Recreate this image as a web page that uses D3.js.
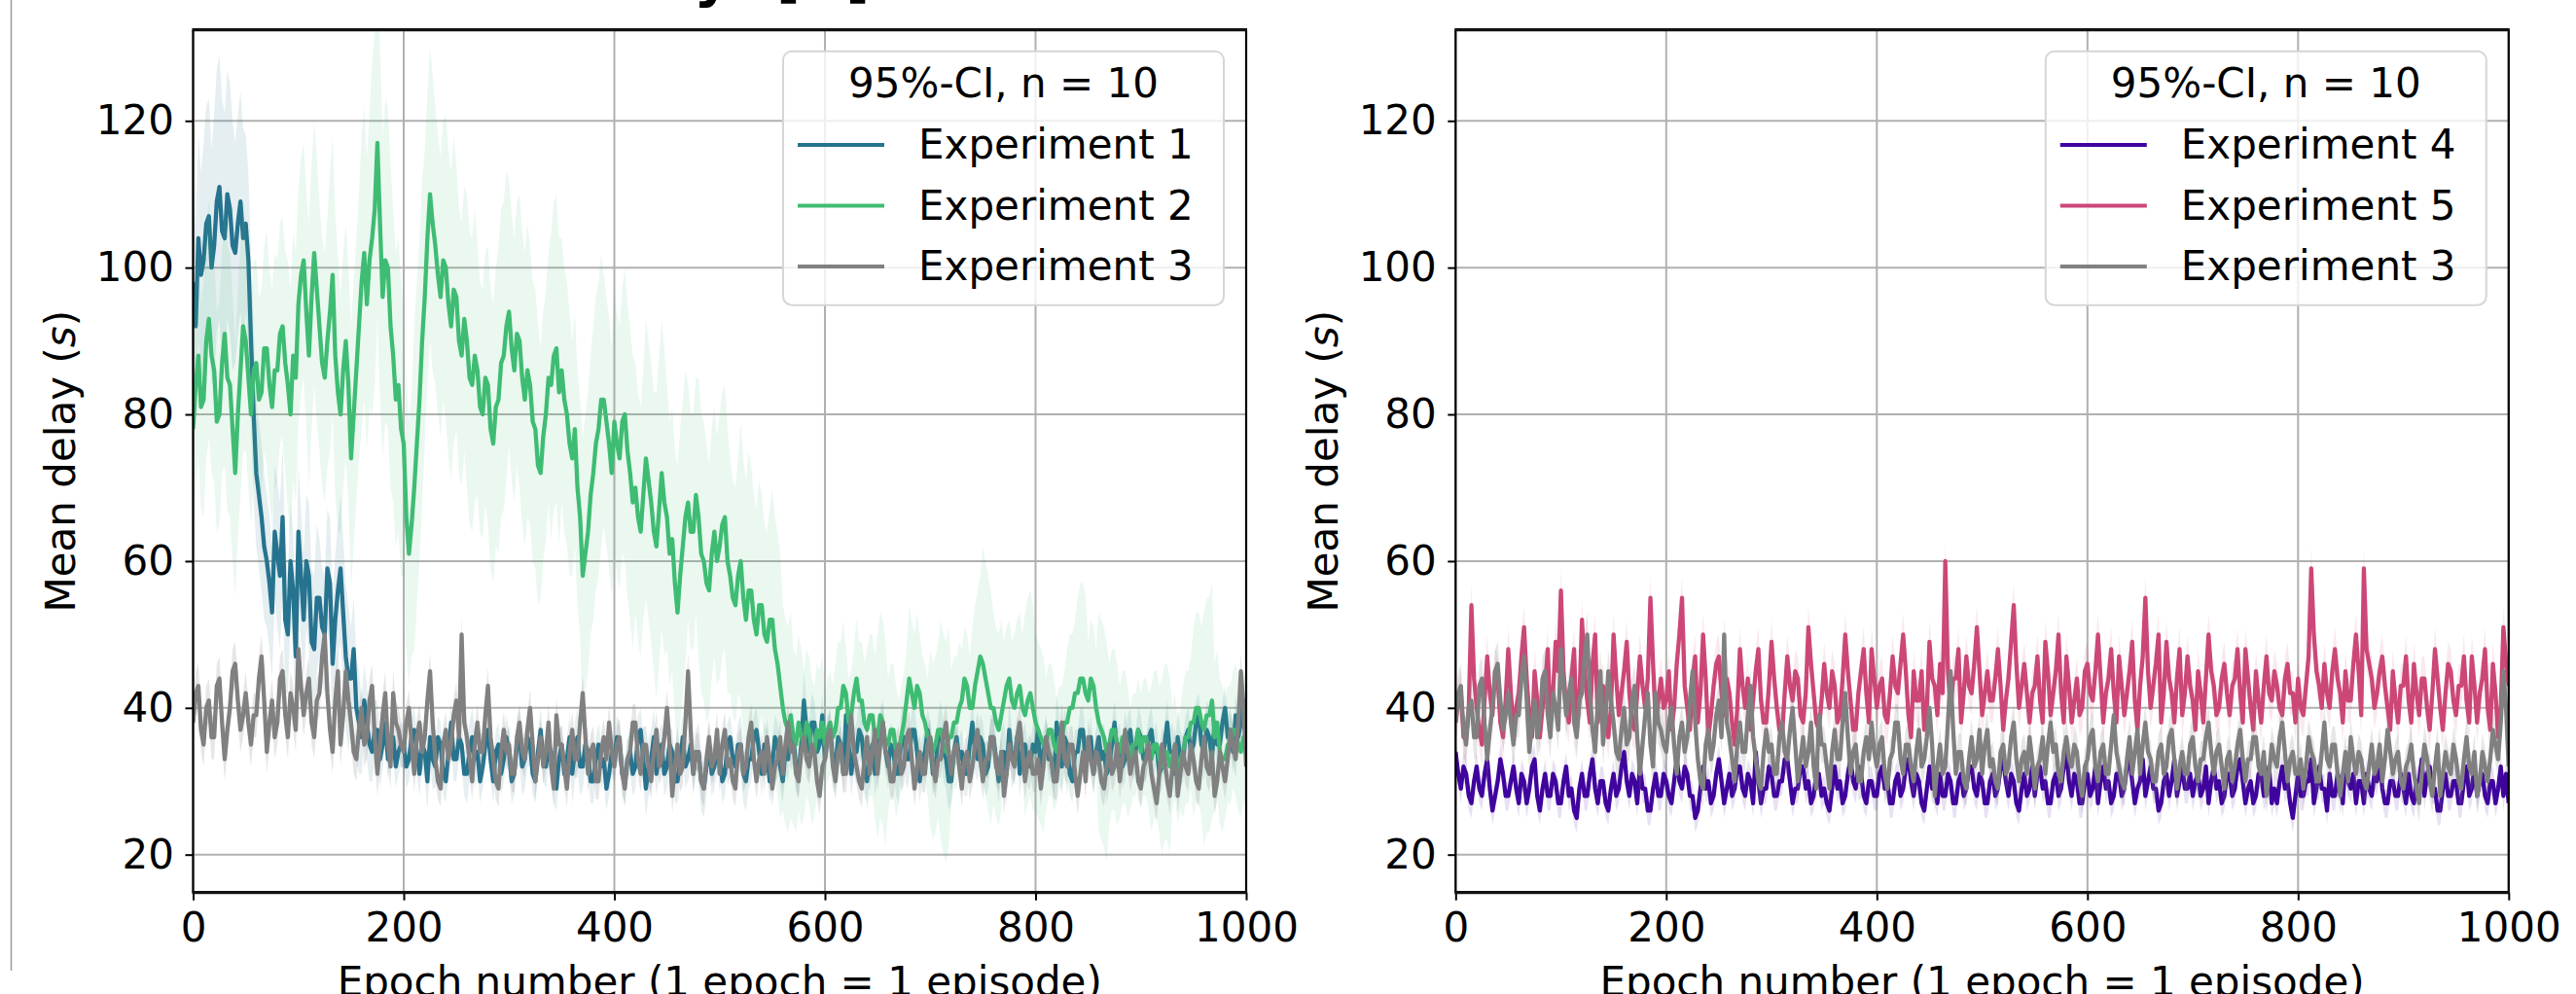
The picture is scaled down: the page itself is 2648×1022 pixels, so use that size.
<!DOCTYPE html>
<html>
<head>
<meta charset="utf-8">
<script src="https://cdn.jsdelivr.net/npm/d3@7"></script>
<style>
body { margin: 0; background: #fff; }
svg { display: block; font-family: "DejaVu Sans", sans-serif; }
</style>
</head>
<body>
<svg id="chart" width="2648" height="1022"></svg>
<script>
//
// Data (one value every 2.5 epochs, 0..1000)
//
var maxEpoch = 1000;
var xTicks = [0, 200, 400, 600, 800, 1000];
var yTicks = [20, 40, 60, 80, 100, 120];
var legendTitle = "95%-CI, n = 10";

var exp1Mean = [
    98,92,104,99,101,106,107,100,103,109,111,105,104,110,108,103,102,106,109,104,
    106,101,90,80,72,69,66,62,60,57,53,64,61,58,66,52,50,60,56,47,
    64,58,52,60,58,49,48,55,55,51,50,59,57,46,52,56,59,53,47,44,
    44,48,40,38,36,41,38,35,34,37,37,33,35,38,33,36,36,32,34,35,
    35,32,33,36,37,34,31,35,34,30,36,33,32,36,35,31,30,34,38,33,
    33,36,35,31,31,34,36,33,34,30,32,35,37,33,30,34,35,31,33,36,
    34,30,31,35,36,32,33,36,35,31,30,34,37,33,32,35,34,30,29,33,
    35,31,33,36,31,34,36,32,32,35,34,30,30,33,35,32,33,29,31,34,
    33,36,35,31,30,33,34,31,32,36,37,33,29,32,33,36,31,34,35,31,
    32,35,34,30,30,33,36,32,33,35,31,34,34,30,29,32,35,31,32,34,
    34,30,31,35,36,33,32,35,35,31,30,33,33,36,37,34,31,35,34,30,
    32,36,35,32,30,34,33,37,36,32,31,35,41,37,34,38,38,34,35,39,
    33,36,37,33,32,36,35,31,39,35,31,34,34,37,36,32,30,33,35,31,
    33,37,38,34,32,35,34,31,31,36,36,33,33,37,37,34,30,33,34,37,
    35,31,32,36,37,34,33,30,30,34,36,33,34,31,31,35,38,34,33,36,
    35,31,32,36,36,33,30,34,34,31,37,33,33,36,31,34,35,32,32,35,
    34,37,31,34,36,33,33,30,38,35,32,36,35,31,30,34,34,37,37,33,
    33,36,31,34,36,33,34,31,32,35,38,34,35,32,33,36,37,33,34,37,
    36,33,33,36,37,34,35,31,32,35,38,34,34,31,36,33,33,36,37,34,
    35,38,39,35,34,37,36,33,38,35,35,38,40,36,37,34,39,36,38,41,
    36
];
var exp2Mean = [
    78,84,88,81,82,90,93,88,86,79,80,87,91,85,84,78,72,80,86,92,
    90,85,80,86,87,82,83,89,89,84,81,86,86,91,92,87,84,80,88,85,
    95,99,101,94,88,96,102,97,92,87,85,90,94,99,88,83,80,86,90,84,
    74,80,86,92,98,102,95,101,104,108,117,106,96,101,100,92,88,82,84,78,
    76,66,61,65,70,76,82,90,96,104,110,106,103,99,96,101,100,95,92,97,
    96,90,88,93,90,85,84,88,86,81,80,85,84,78,76,81,82,87,88,92,
    94,89,86,91,90,85,82,86,84,79,78,73,72,77,80,85,84,88,89,83,
    86,82,80,76,74,78,70,66,58,61,64,69,72,76,78,82,82,79,76,72,
    79,76,74,79,80,75,72,68,70,66,64,69,74,71,68,64,62,67,72,68,
    66,61,63,57,53,58,62,66,68,64,64,69,66,61,60,57,56,61,64,60,
    62,65,66,60,58,55,54,58,60,55,52,56,56,52,50,54,54,50,49,52,
    52,48,46,43,40,38,37,39,36,35,38,36,35,38,37,34,34,37,36,38,
    35,37,38,36,37,40,40,43,42,38,39,42,44,41,41,38,37,39,39,36,
    36,39,38,35,35,37,37,34,34,36,38,41,44,42,40,43,42,39,38,36,
    36,34,35,37,37,35,34,36,36,38,38,40,41,44,43,40,40,43,45,47,
    46,44,42,40,40,38,37,39,41,43,44,41,40,42,43,40,39,41,42,40,
    38,37,36,35,35,37,37,35,34,36,36,38,38,40,40,42,42,44,44,42,
    41,44,43,40,38,37,36,34,35,37,37,35,34,36,36,34,33,35,35,37,
    34,36,36,34,33,35,35,33,32,34,34,32,33,35,31,33,34,36,36,38,
    38,40,40,38,37,39,39,41,36,38,34,33,33,35,35,37,37,35,34,36,
    36
];
var exp3Mean = [
    38,42,43,37,35,40,41,36,36,43,44,38,33,37,40,45,46,41,37,39,
    42,38,35,39,39,44,47,41,34,38,41,36,38,44,45,39,36,42,40,37,
    48,43,39,42,44,38,36,41,42,47,50,42,37,34,41,45,35,39,45,41,
    38,34,33,37,40,35,36,41,43,36,31,35,39,42,35,32,42,38,37,35,
    34,38,40,35,31,36,38,34,36,41,45,38,33,30,29,35,37,33,35,39,
    41,36,50,38,36,33,30,35,38,34,34,39,43,36,33,30,29,34,37,34,
    35,31,31,36,38,34,33,37,40,35,30,33,36,32,34,38,32,29,39,35,
    35,32,29,34,37,33,33,38,42,36,31,34,35,30,30,34,36,33,38,34,
    32,35,36,31,29,33,34,38,38,33,31,35,35,32,30,34,37,32,33,36,
    40,35,28,32,35,31,32,38,45,37,31,34,34,30,29,33,36,32,33,37,
    31,35,37,32,33,30,29,34,35,31,32,36,38,33,30,33,34,31,36,33,
    29,32,33,36,31,35,38,34,35,31,30,34,36,33,32,35,34,30,28,32,
    33,36,37,32,30,34,35,31,31,35,39,34,32,30,29,33,36,31,34,37,
    31,35,38,34,33,30,30,34,35,31,32,36,37,33,29,32,34,31,31,35,
    36,32,30,33,33,36,38,34,31,34,35,32,29,33,34,30,32,35,37,33,
    30,33,33,36,36,32,31,34,28,31,35,33,32,36,38,34,30,33,34,31,
    31,33,29,32,36,34,33,30,30,34,38,33,32,35,35,31,28,31,34,30,
    36,33,31,34,33,30,29,32,35,31,32,35,30,33,37,34,31,33,34,30,
    29,32,33,35,31,29,27,31,35,33,30,28,32,35,28,31,34,32,31,35,
    33,30,29,33,36,32,31,34,28,30,34,32,30,33,37,35,33,38,45,40,
    32
];
var exp4Mean = [
    34,31,29,32,31,28,27,30,32,29,28,31,33,29,26,28,30,33,31,28,
    28,30,32,29,27,31,30,27,29,32,33,28,26,29,31,28,28,31,30,27,
    27,30,32,28,29,26,25,29,31,28,28,31,33,29,27,30,30,27,26,29,
    31,28,29,32,34,30,28,31,30,27,32,29,29,26,26,29,31,28,28,31,
    30,28,27,30,33,30,29,32,31,28,28,25,26,29,32,29,30,27,28,31,
    33,30,27,29,31,28,29,32,32,29,28,31,30,27,34,30,27,29,29,32,
    31,28,28,30,30,33,33,30,27,29,29,32,32,29,30,27,28,31,31,28,
    29,27,26,29,32,29,30,27,28,31,33,30,29,32,31,28,27,30,30,28,
    28,31,32,29,30,27,27,30,31,28,29,32,33,30,28,31,30,27,26,29,
    32,29,29,27,31,28,28,31,30,27,27,30,31,28,29,32,32,29,28,31,
    30,27,27,30,31,28,29,32,33,30,28,31,30,27,26,29,31,28,29,32,
    28,31,32,29,30,27,27,30,31,28,29,32,34,30,28,31,30,27,27,30,
    31,28,29,32,27,30,32,29,30,27,28,31,31,28,29,32,33,30,27,29,
    30,33,28,30,32,29,29,26,27,30,31,28,30,33,28,30,32,29,29,31,
    28,30,31,28,29,32,27,30,32,29,30,27,28,31,31,28,29,32,33,30,
    27,29,30,27,28,31,31,28,29,32,27,29,27,30,32,29,30,27,25,28,
    31,28,28,30,30,33,27,29,32,29,29,26,31,28,28,31,30,27,33,30,
    29,31,27,30,30,27,31,29,28,31,30,33,29,27,27,30,30,28,28,31,
    29,27,31,28,27,30,30,33,28,31,32,29,29,26,26,29,31,28,28,30,
    30,27,27,30,32,28,29,32,28,30,31,28,27,30,30,27,29,32,28,31,
    27
];
var exp5Mean = [
    38,41,42,36,36,40,54,44,40,37,35,41,47,42,39,45,44,38,36,41,
    48,42,37,40,42,47,51,44,39,36,45,41,36,40,43,48,38,42,49,45,
    56,45,40,38,44,48,37,41,52,45,41,38,46,50,38,42,43,39,36,40,
    50,44,39,42,45,49,42,38,37,42,47,43,40,44,55,46,38,41,44,40,
    41,45,37,40,46,50,55,43,40,37,44,47,38,42,50,44,36,39,43,46,
    47,42,39,44,42,38,35,40,48,43,40,44,37,41,45,48,41,38,38,43,
    49,44,40,37,36,42,47,43,41,45,44,39,38,42,51,46,42,38,37,41,
    46,42,40,45,43,38,39,44,50,45,41,37,37,42,45,48,42,38,48,44,
    40,43,44,39,38,42,47,43,42,46,50,45,39,36,45,41,41,45,37,40,
    49,44,43,39,46,42,60,45,40,44,44,48,38,42,47,43,42,46,51,45,
    39,42,45,41,41,44,48,43,37,41,44,49,54,46,40,43,46,42,38,42,
    43,47,41,38,49,45,39,42,45,50,42,38,47,43,38,41,44,39,40,45,
    46,42,41,45,50,44,38,42,44,48,42,38,47,43,39,42,45,49,41,37,
    43,47,55,45,40,43,46,50,38,42,49,44,42,38,44,48,39,42,47,43,
    41,37,45,42,38,44,50,45,43,39,40,44,46,42,39,43,44,48,42,38,
    48,44,40,37,45,41,38,43,47,42,41,45,43,40,39,44,46,42,42,38,
    44,40,39,43,47,59,50,45,43,40,46,42,40,45,48,44,42,38,45,41,
    41,46,50,45,39,59,48,46,44,40,42,45,47,43,40,37,45,41,38,43,
    43,47,41,38,46,42,39,44,44,40,37,42,48,44,40,37,42,46,45,41,
    39,43,43,47,41,38,47,43,38,42,44,48,40,37,46,42,36,40,51,46,
    43
];

// 95%-CI half widths (exp1/exp2 every 10 epochs, others every 100 epochs)
var exp1Ci = [
    14,16,18,17,15,12,10,9,10,8, 9,10,8,9,10,7,5,4,3,3,
    3,3,4,3,3,3,4,3,3,3, 3,4,3,3,3,3,4,3,3,3,
    3,3,3,4,3,3,3,3,4,3, 3,3,4,3,3,3,3,3,4,3,
    3,3,3,4,3,3,3,4,3,3, 3,4,3,3,3,3,3,4,3,3,
    3,3,4,3,3,3,4,3,3,3, 3,3,3,4,3,3,4,3,3,3,
    3
];
var exp2Ci = [
    14,16,15,18,17,15,14,16,15,17, 16,18,17,19,16,18,20,24,22,20,
    18,22,20,19,21,18,20,17,19,21, 18,20,19,17,21,18,16,19,20,17,
    18,20,17,19,21,18,20,16,19,17, 18,16,19,17,15,18,14,12,10,9,
    7,9,6,8,11,14,9,7,10,8, 12,15,9,7,11,16,13,8,10,14,
    12,9,7,10,13,8,15,11,9,7, 8,10,12,7,9,13,16,10,8,9,
    8
];
var exp3Ci = [3, 3, 2.5, 2.5, 2.5, 2.5, 2.5, 2.5, 2.5, 2.5, 2.5];
var exp4Ci = [2, 2, 2, 2, 2, 2, 2, 2, 2, 2, 2];
var exp5Ci = [3, 3, 3, 3, 3, 3, 3, 3, 3, 3, 3];

var exp1 = { name: "Experiment 1", color: "#26738f", mean: exp1Mean, ci: exp1Ci, bandAlpha: 0.12 };
var exp2 = { name: "Experiment 2", color: "#3fbc73", mean: exp2Mean, ci: exp2Ci, bandAlpha: 0.11 };
var exp3 = { name: "Experiment 3", color: "#808080", mean: exp3Mean, ci: exp3Ci, bandAlpha: 0.2 };
var exp4 = { name: "Experiment 4", color: "#40049e", mean: exp4Mean, ci: exp4Ci, bandAlpha: 0.12 };
var exp5 = { name: "Experiment 5", color: "#cc4778", mean: exp5Mean, ci: exp5Ci, bandAlpha: 0.12 };

//
// Layout
//
var W = 1082.5, H = 887, TOP = 30.7;
var FS = 42;
var svg = d3.select("#chart");

function toPoints(s) {
    var n = s.ci.length, m = s.mean.length;
    return s.mean.map(function(v, i) {
        var e = i * maxEpoch / (m - 1);
        var hw = s.ci[Math.min(n - 1, Math.floor(e * (n - 1) / maxEpoch))];
        return { e: e, v: v, lo: v - hw, hi: v + hw };
    });
}

function drawPanel(left, series, id) {
    var x = d3.scaleLinear().domain([0, maxEpoch]).range([0, W]);
    var y = d3.scaleLinear().domain([14.83, 132.4]).range([H, 0]);

    var g = svg.append("g").attr("transform", "translate(" + left + "," + TOP + ")");

    g.append("clipPath").attr("id", "clip" + id)
        .append("rect").attr("width", W).attr("height", H);

    // grid
    g.selectAll(".gx").data(xTicks).enter().append("line")
        .attr("x1", d => x(d)).attr("x2", d => x(d))
        .attr("y1", 0).attr("y2", H)
        .attr("stroke", "#b0b0b0").attr("stroke-width", 2);
    g.selectAll(".gy").data(yTicks).enter().append("line")
        .attr("x1", 0).attr("x2", W)
        .attr("y1", d => y(d)).attr("y2", d => y(d))
        .attr("stroke", "#b0b0b0").attr("stroke-width", 2);

    var plot = g.append("g").attr("clip-path", "url(#clip" + id + ")");
    var area = d3.area().x(d => x(d.e)).y0(d => y(d.lo)).y1(d => y(d.hi));
    var line = d3.line().x(d => x(d.e)).y(d => y(d.v));

    series.forEach(function(s) {
        var pts = toPoints(s);
        plot.append("path").datum(pts).attr("d", area)
            .attr("fill", s.color).attr("fill-opacity", s.bandAlpha);
        plot.append("path").datum(pts).attr("d", line)
            .attr("fill", "none").attr("stroke", s.color)
            .attr("stroke-width", 4.3).attr("stroke-linejoin", "round");
    });

    // axes
    var xa = g.append("g").attr("transform", "translate(0," + H + ")")
        .call(d3.axisBottom(x).tickValues(xTicks).tickSize(8).tickPadding(12).tickFormat(d3.format("d")));
    var ya = g.append("g")
        .call(d3.axisLeft(y).tickValues(yTicks).tickSize(8).tickPadding(11.5).tickFormat(d3.format("d")));
    [xa, ya].forEach(function(a) {
        a.select(".domain").remove();
        a.selectAll(".tick line").attr("stroke", "#000").attr("stroke-width", 2);
        a.selectAll(".tick text").attr("fill", "#000")
            .style("font-family", "DejaVu Sans").style("font-size", FS + "px");
    });

    // spines
    g.append("line").attr("x1", 0).attr("x2", 0).attr("y1", 0).attr("y2", H)
        .attr("stroke", "#000").attr("stroke-width", 2.2);
    g.append("line").attr("x1", W).attr("x2", W).attr("y1", 0).attr("y2", H)
        .attr("stroke", "#000").attr("stroke-width", 2.2);
    g.append("line").attr("x1", -1).attr("x2", W + 1).attr("y1", 0).attr("y2", 0)
        .attr("stroke", "#111").attr("stroke-width", 3.2);
    g.append("line").attr("x1", -1).attr("x2", W + 1).attr("y1", H).attr("y2", H)
        .attr("stroke", "#111").attr("stroke-width", 3.2);

    // axis labels
    var yl = g.append("text")
        .attr("transform", "translate(-121.5," + (H / 2) + ") rotate(-90)")
        .attr("text-anchor", "middle").style("font-size", FS + "px").attr("fill", "#000");
    yl.append("tspan").text("Mean delay (");
    yl.append("tspan").style("font-style", "italic").text("s");
    yl.append("tspan").text(")");

    g.append("text").attr("x", W / 2).attr("y", 993.3)
        .attr("text-anchor", "middle").style("font-size", FS + "px").attr("fill", "#000")
        .text("Epoch number (1 epoch = 1 episode)");

    // legend
    var lg = g.append("g").attr("transform", "translate(606.5,22)");
    lg.append("rect").attr("width", 453).attr("height", 261).attr("rx", 9)
        .attr("fill", "#fff").attr("fill-opacity", 0.8)
        .attr("stroke", "#d6d6d6").attr("stroke-width", 2);
    lg.append("text").attr("x", 226.5).attr("y", 47.3).attr("text-anchor", "middle")
        .style("font-size", FS + "px").attr("fill", "#000").text(legendTitle);
    series.forEach(function(s, i) {
        var ly = 96.3 + i * 62.5;
        lg.append("line").attr("x1", 15).attr("x2", 104).attr("y1", ly).attr("y2", ly)
            .attr("stroke", s.color).attr("stroke-width", 4);
        lg.append("text").attr("x", 139).attr("y", ly + 14.5)
            .style("font-size", FS + "px").attr("fill", "#000").text(s.name);
    });
}

// page border and cut-off heading
svg.append("line").attr("x1", 11.5).attr("x2", 11.5).attr("y1", 0).attr("y2", 998)
    .attr("stroke", "#9a9a9a").attr("stroke-width", 1.5);
svg.append("text").attr("x", 902).attr("y", -5).attr("text-anchor", "end")
    .style("font-family", "DejaVu Sans Mono").style("font-weight", "bold")
    .style("font-size", "62px").text("Mean delay [s]");

drawPanel(198.5, [exp1, exp2, exp3], "a");
drawPanel(1496.3, [exp4, exp5, exp3], "b");
</script>
</body>
</html>
